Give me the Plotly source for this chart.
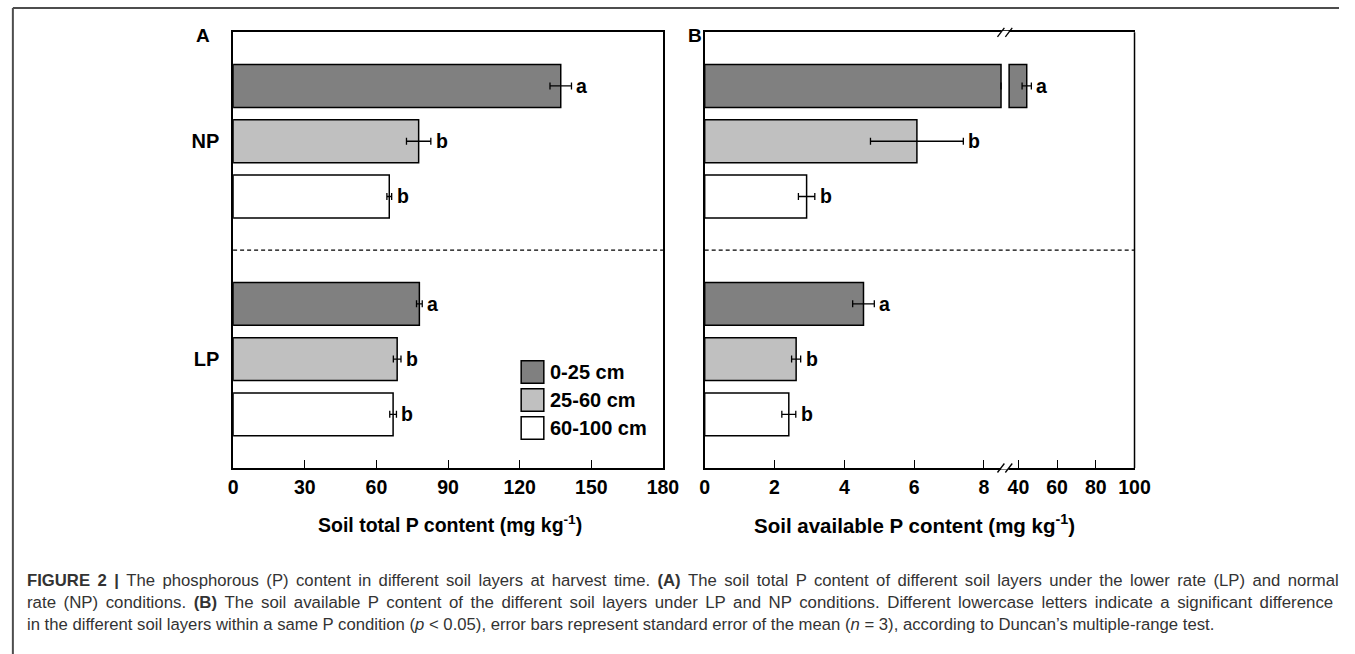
import plotly.graph_objects as go

W, H = 1355, 654

# ---------------- data ----------------
conditions = ["LP", "NP"]                      # y categories (bottom -> top)
layers = ["0-25 cm", "25-60 cm", "60-100 cm"]  # legend order
layer_colors = ["#808080", "#c0c0c0", "#ffffff"]

# Soil total P content (mg/kg)  [LP, NP]
total_p = {
    "0-25 cm":   [78.0, 137.2],
    "25-60 cm":  [68.7, 77.7],
    "60-100 cm": [67.0, 65.4],
}
total_p_err = {
    "0-25 cm":   [1.2, 4.5],
    "25-60 cm":  [1.6, 5.1],
    "60-100 cm": [1.4, 1.0],
}
total_p_letters = {
    "0-25 cm":   ["a", "a"],
    "25-60 cm":  ["b", "b"],
    "60-100 cm": ["b", "b"],
}

# Soil available P content (mg/kg)  [LP, NP]
avail_p = {
    "0-25 cm":   [4.55, 44.3],
    "25-60 cm":  [2.62, 6.08],
    "60-100 cm": [2.41, 2.92],
}
avail_p_err = {
    "0-25 cm":   [0.31, 2.4],
    "25-60 cm":  [0.13, 1.33],
    "60-100 cm": [0.20, 0.235],
}
avail_p_letters = {
    "0-25 cm":   ["a", "a"],
    "25-60 cm":  ["b", "b"],
    "60-100 cm": ["b", "b"],
}

total_ticks = [0, 30, 60, 90, 120, 150, 180]
avail_ticks_low = [0, 2, 4, 6, 8]
avail_ticks_high = [40, 60, 80, 100]

# axis break for panel B
BREAK_LOW = 8.6     # end of lower segment
BREAK_HIGH = 33.0   # start of upper segment
LOW_CLIP = 8.49     # where a broken bar stops in the lower segment
HIGH_BASE = 35.2    # where a broken bar restarts in the upper segment

caption_lines = [
    "<b>FIGURE 2 |</b> The phosphorous (P) content in different soil layers at harvest time. <b>(A)</b> The soil total P content of different soil layers under the lower rate (LP) and normal",
    "rate (NP) conditions. <b>(B)</b> The soil available P content of the different soil layers under LP and NP conditions. Different lowercase letters indicate a significant difference",
    "in the different soil layers within a same P condition (<i>p</i> &lt; 0.05), error bars represent standard error of the mean (<i>n</i> = 3), according to Duncan\u2019s multiple-range test.",
]
caption_justified = [True, True, False]
caption_sizes = [16.7, 16.85, 16.7]

# ---------------- layout helpers ----------------
def px_x(p):
    return p / W

def px_y(p):
    return 1 - p / H

FONT = "Arial, Liberation Sans, sans-serif"
A_L, A_R = 231.7, 668.3
B_L, B_BRK, B_R = 710.7, 1015.6, 1147.3
P_T, P_B = 32.3, 468.0

BARGAP = 0.239
BARGROUPGAP = 0.225
slot = (1 - BARGAP) / len(layers)

fig = go.Figure()

line_style = dict(color="black", width=1.5)
err_style = dict(type="data", visible=True, color="black", thickness=1.3, width=3.5)

# traces are added bottom layer first so that 0-25 cm sits on top of each group
order = list(range(len(layers)))[::-1]

annotations = []

def layer_offset(i):
    # position of layer i inside the group (0 -> top)
    return (1 - i) * slot

for i in order:
    lay = layers[i]
    # Panel A
    fig.add_trace(go.Bar(
        y=conditions, x=total_p[lay], orientation="h", name=lay,
        marker=dict(color=layer_colors[i], line=line_style),
        error_x=dict(array=total_p_err[lay], **err_style),
        xaxis="x", yaxis="y", showlegend=False, hoverinfo="skip",
    ))
    # Panel B, lower segment
    low_vals = [min(v, LOW_CLIP) if v > BREAK_LOW else v for v in avail_p[lay]]
    low_err = [0 if v > BREAK_LOW else e for v, e in zip(avail_p[lay], avail_p_err[lay])]
    fig.add_trace(go.Bar(
        y=conditions, x=low_vals, orientation="h", name=lay,
        marker=dict(color=layer_colors[i], line=line_style),
        error_x=dict(array=low_err, **err_style),
        xaxis="x2", yaxis="y2", showlegend=False, hoverinfo="skip",
    ))
    # Panel B, upper segment (only bars that cross the break)
    high_len = [v - HIGH_BASE if v > BREAK_LOW else None for v in avail_p[lay]]
    high_err = [e if v > BREAK_LOW else 0 for v, e in zip(avail_p[lay], avail_p_err[lay])]
    fig.add_trace(go.Bar(
        y=conditions, x=high_len, base=HIGH_BASE, orientation="h", name=lay,
        marker=dict(color=layer_colors[i], line=line_style),
        error_x=dict(array=high_err, **err_style),
        xaxis="x3", yaxis="y2", showlegend=False, hoverinfo="skip",
    ))

letter_font = dict(family=FONT, size=19.5, color="black", weight="bold")

# significance letters
for i, lay in enumerate(layers):
    for j, cond in enumerate(conditions):
        yy = j + layer_offset(i)
        annotations.append(dict(
            x=total_p[lay][j] + total_p_err[lay][j], y=yy, xref="x", yref="y",
            text=total_p_letters[lay][j], showarrow=False, xanchor="left", yanchor="middle",
            xshift=3, font=letter_font,
        ))
        v = avail_p[lay][j]
        annotations.append(dict(
            x=v + avail_p_err[lay][j], y=yy, xref="x3" if v > BREAK_LOW else "x2", yref="y2",
            text=avail_p_letters[lay][j], showarrow=False, xanchor="left", yanchor="middle",
            xshift=3, font=letter_font,
        ))

# axis titles
annotations.append(dict(
    x=px_x(452), y=px_y(524), xref="paper", yref="paper",
    xanchor="center", yanchor="middle",
    text="Soil total P content (mg kg<sup>-1</sup>)", showarrow=False,
    font=dict(family=FONT, size=19.5, color="black", weight="bold"),
))
annotations.append(dict(
    x=px_x(924), y=px_y(524), xref="paper", yref="paper",
    xanchor="center", yanchor="middle",
    text="Soil available P content (mg kg<sup>-1</sup>)", showarrow=False,
    font=dict(family=FONT, size=20.5, color="black", weight="bold"),
))
# panel letters
for lab, xp, yp in (("A", 201, 35), ("B", 701, 35)):
    annotations.append(dict(
        x=px_x(xp), y=px_y(yp), xref="paper", yref="paper", text=lab, showarrow=False,
        xanchor="center", yanchor="middle",
        font=dict(family=FONT, size=19, color="black", weight="bold"),
    ))

# legend (drawn manually to match the large swatches)
shapes = []
LEG_X = 524.3
LEG_Y0 = 360.7
LEG_STEP = 28.0
for i, lay in enumerate(layers):
    y0 = LEG_Y0 + i * LEG_STEP
    shapes.append(dict(
        type="rect", xref="paper", yref="paper",
        x0=px_x(LEG_X), x1=px_x(LEG_X + 23), y0=px_y(y0), y1=px_y(y0 + 22.6),
        fillcolor=layer_colors[i], line=dict(color="black", width=1.5),
    ))
    annotations.append(dict(
        x=px_x(LEG_X + 27), y=px_y(y0 + 11.3), xref="paper", yref="paper",
        text=lay, showarrow=False, xanchor="left", yanchor="middle",
        font=dict(family=FONT, size=20, color="black", weight="bold"),
    ))

# caption (justified lines get a little extra word spacing)
for k, line in enumerate(caption_lines):
    txt = line.replace(" ", " \u200a\u200a") if caption_justified[k] else line
    annotations.append(dict(
        x=px_x(20), y=px_y(580 + 22 * k), xref="paper", yref="paper",
        text=txt, showarrow=False, xanchor="left", yanchor="middle",
        font=dict(family="Liberation Sans, Arial, sans-serif", size=caption_sizes[k], color="#333333"),
    ))

# dashed separators between NP and LP
shapes.append(dict(type="line", xref="x domain", yref="y", x0=0, x1=1, y0=0.5, y1=0.5,
                   line=dict(color="black", width=1.2, dash="4px,3px")))
shapes.append(dict(type="line", xref="paper", yref="y2", x0=px_x(B_L), x1=px_x(B_R), y0=0.5, y1=0.5,
                   line=dict(color="black", width=1.2, dash="4px,3px")))
# right edge of panel B
shapes.append(dict(type="line", xref="x3 domain", yref="y2 domain", x0=1, x1=1, y0=0, y1=1,
                   line=dict(color="black", width=1.5)))
# axis-break marks (top and bottom)
for yb in (P_T, P_B):
    shapes.append(dict(type="line", xref="paper", yref="paper",
                       x0=px_x(B_BRK - 4), x1=px_x(B_BRK + 4), y0=px_y(yb), y1=px_y(yb),
                       line=dict(color="white", width=3)))
    for dx in (-4, 4):
        shapes.append(dict(type="line", xref="paper", yref="paper",
                           x0=px_x(B_BRK + dx - 3.5), x1=px_x(B_BRK + dx + 3.5),
                           y0=px_y(yb + 4.5), y1=px_y(yb - 4.5),
                           line=dict(color="black", width=1.3)))
# outer figure frame
shapes.append(dict(type="line", xref="paper", yref="paper", x0=px_x(8), x1=1, y0=px_y(8), y1=px_y(8),
                   line=dict(color="#4d4d4d", width=2)))
shapes.append(dict(type="line", xref="paper", yref="paper", x0=px_x(8), x1=px_x(8), y0=px_y(8), y1=0,
                   line=dict(color="#4d4d4d", width=2)))

tickfont = dict(family=FONT, size=19.5, color="black", weight="bold")
xcommon = dict(showgrid=False, zeroline=False, showline=True, linecolor="black", linewidth=1.5,
               mirror=True, ticks="inside", ticklen=8, tickwidth=1.3, tickcolor="black",
               tickfont=tickfont, ticklabelstandoff=1, fixedrange=True)

fig.update_layout(
    width=W, height=H,
    margin=dict(l=0, r=0, t=0, b=0),
    paper_bgcolor="white", plot_bgcolor="white",
    barmode="group", bargap=BARGAP, bargroupgap=BARGROUPGAP,
    showlegend=False,
    xaxis=dict(domain=[px_x(A_L), px_x(A_R)], range=[0, 180], tickvals=total_ticks,
               anchor="y", **xcommon),
    yaxis=dict(domain=[px_y(P_B), px_y(P_T)], type="category", categoryorder="array",
               categoryarray=conditions, range=[-0.5, 1.5], anchor="x",
               showgrid=False, zeroline=False, showline=True, linecolor="black", linewidth=1.5,
               mirror=True, ticks="", tickfont=dict(family=FONT, size=20, color="black", weight="bold"),
               ticklabelstandoff=8, fixedrange=True),
    xaxis2=dict(domain=[px_x(B_L), px_x(B_BRK)], range=[0, BREAK_LOW], tickvals=avail_ticks_low,
                anchor="y2", **xcommon),
    xaxis3=dict(domain=[px_x(B_BRK), px_x(B_R)], range=[BREAK_HIGH, 100], tickvals=avail_ticks_high,
                anchor="y2", **xcommon),
    yaxis2=dict(domain=[px_y(P_B), px_y(P_T)], type="category", categoryorder="array",
                categoryarray=conditions, range=[-0.5, 1.5], anchor="x2",
                showgrid=False, zeroline=False, showline=True, linecolor="black", linewidth=1.5,
                mirror=False, ticks="", showticklabels=False, fixedrange=True),
    annotations=annotations,
    shapes=shapes,
)

fig.write_html("out.html", config={"displayModeBar": False})
